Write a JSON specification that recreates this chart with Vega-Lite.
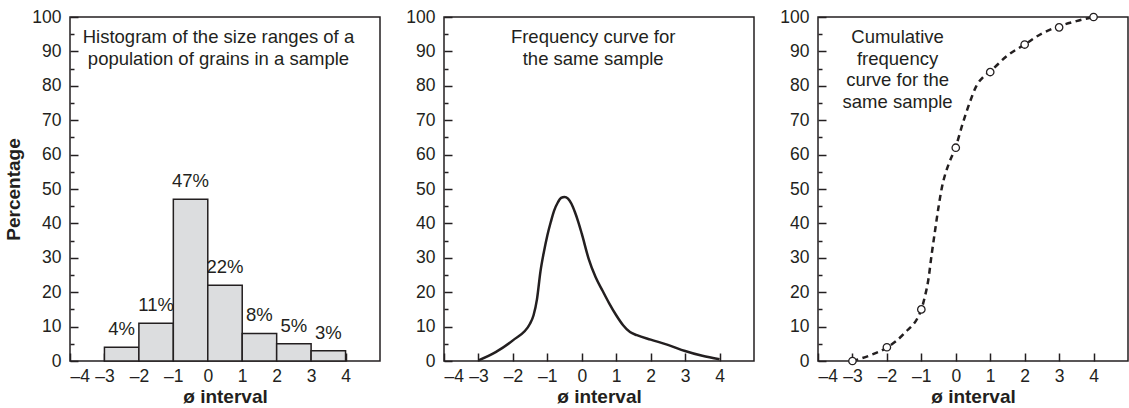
{
  "$schema": "https://vega.github.io/schema/vega-lite/v6.json",
  "background": "white",
  "padding": {"left": 4, "top": 7, "right": 0, "bottom": 0},
  "spacing": 24,
  "datasets": {
    "hist": [
      {"bin_start": -3, "bin_end": -2, "mid": -2.5, "pct": 4, "label": "4%"},
      {"bin_start": -2, "bin_end": -1, "mid": -1.5, "pct": 11, "label": "11%"},
      {"bin_start": -1, "bin_end": 0, "mid": -0.5, "pct": 47, "label": "47%"},
      {"bin_start": 0, "bin_end": 1, "mid": 0.5, "pct": 22, "label": "22%"},
      {"bin_start": 1, "bin_end": 2, "mid": 1.5, "pct": 8, "label": "8%"},
      {"bin_start": 2, "bin_end": 3, "mid": 2.5, "pct": 5, "label": "5%"},
      {"bin_start": 3, "bin_end": 4, "mid": 3.5, "pct": 3, "label": "3%"}
    ],
    "freq": [
      {"phi": -3, "pct": 0.2}, {"phi": -2.5, "pct": 2.6}, {"phi": -2, "pct": 6},
      {"phi": -1.5, "pct": 10.9}, {"phi": -1.4, "pct": 13.3}, {"phi": -1.3, "pct": 18},
      {"phi": -1.2, "pct": 26}, {"phi": -1.1, "pct": 31.7}, {"phi": -1, "pct": 36.5},
      {"phi": -0.9, "pct": 40.4}, {"phi": -0.8, "pct": 43.8}, {"phi": -0.7, "pct": 46},
      {"phi": -0.6, "pct": 47.4}, {"phi": -0.5, "pct": 47.7}, {"phi": -0.4, "pct": 47.2},
      {"phi": -0.3, "pct": 45.7}, {"phi": -0.2, "pct": 43.3}, {"phi": -0.1, "pct": 40.4},
      {"phi": 0, "pct": 37}, {"phi": 0.2, "pct": 29.7}, {"phi": 0.4, "pct": 24.4},
      {"phi": 0.6, "pct": 20.5}, {"phi": 0.8, "pct": 16.7}, {"phi": 1, "pct": 13.3},
      {"phi": 1.2, "pct": 10.4}, {"phi": 1.4, "pct": 8.4}, {"phi": 1.6, "pct": 7.5},
      {"phi": 2, "pct": 6.2}, {"phi": 2.5, "pct": 4.7}, {"phi": 3, "pct": 2.9},
      {"phi": 3.5, "pct": 1.5}, {"phi": 4, "pct": 0.5}
    ],
    "cumcurve": [
      {"phi": -3, "pct": 0}, {"phi": -2.5, "pct": 1.6}, {"phi": -2, "pct": 3.9},
      {"phi": -1.5, "pct": 8}, {"phi": -1, "pct": 15}, {"phi": -0.9, "pct": 18.6},
      {"phi": -0.8, "pct": 23.4}, {"phi": -0.7, "pct": 31}, {"phi": -0.6, "pct": 38},
      {"phi": -0.5, "pct": 44.8}, {"phi": -0.4, "pct": 50.6}, {"phi": -0.3, "pct": 54.5},
      {"phi": -0.2, "pct": 57.4}, {"phi": 0, "pct": 62.3}, {"phi": 0.2, "pct": 69},
      {"phi": 0.4, "pct": 75}, {"phi": 0.6, "pct": 80}, {"phi": 0.8, "pct": 82.6},
      {"phi": 1, "pct": 84.2}, {"phi": 1.5, "pct": 88.8}, {"phi": 2, "pct": 92},
      {"phi": 2.5, "pct": 95.2}, {"phi": 3, "pct": 97.3}, {"phi": 3.5, "pct": 98.8},
      {"phi": 4, "pct": 100}
    ],
    "cumpts": [
      {"phi": -3, "pct": 0}, {"phi": -2, "pct": 4}, {"phi": -1, "pct": 15},
      {"phi": 0, "pct": 62}, {"phi": 1, "pct": 84}, {"phi": 2, "pct": 92},
      {"phi": 3, "pct": 97}, {"phi": 4, "pct": 100}
    ],
    "one": [{}]
  },
  "config": {
    "font": "Liberation Sans",
    "view": {"stroke": "#231f20", "strokeWidth": 1.5},
    "axis": {
      "grid": false,
      "ticks": true,
      "domain": false,
      "offset": -8,
      "tickSize": 8,
      "tickColor": "#231f20",
      "tickWidth": 1.5,
      "labelColor": "#231f20",
      "labelFont": "Liberation Sans",
      "labelFontSize": 17.5,
      "labelOverlap": false,
      "titleColor": "#231f20",
      "titleFont": "Liberation Sans",
      "titleFontSize": 19,
      "titleFontWeight": "bold"
    },
    "axisX": {"labelPadding": 6, "titlePadding": 3},
    "axisY": {"labelPadding": 9},
    "text": {"font": "Liberation Sans", "color": "#231f20"}
  },
  "hconcat": [
    {
      "width": 310,
      "height": 344,
      "layer": [
        {
          "data": {"name": "hist"},
          "mark": {"type": "rect", "fill": "#dcdddf", "stroke": "#231f20", "strokeWidth": 1.5},
          "encoding": {
            "x": {"field": "bin_start", "type": "quantitative",
              "scale": {"domain": [-4, 5], "nice": false},
              "axis": {"title": "ø interval", "values": [-4, -3, -2, -1, 0, 1, 2, 3, 4], "labelOverlap": false,
                "labelExpr": "datum.value < 0 ? '–' + abs(datum.value) : '' + datum.value"}},
            "x2": {"field": "bin_end"},
            "y": {"field": "pct", "type": "quantitative",
              "scale": {"domain": [0, 100], "nice": false},
              "axis": {"title": "Percentage", "titlePadding": 8, "labelOverlap": false,
                "values": [0, 5, 10, 15, 20, 25, 30, 35, 40, 45, 50, 55, 60, 65, 70, 75, 80, 85, 90, 95, 100],
                "labelExpr": "datum.value % 10 === 0 ? datum.label : ''",
                "tickDash": {"condition": {"test": "datum.value % 10 !== 0", "value": [4, 4]}, "value": []},
                "tickDashOffset": {"condition": {"test": "datum.value % 10 !== 0", "value": 4}, "value": 0}}},
            "y2": {"datum": 0}
          }
        },
        {
          "data": {"name": "hist"},
          "mark": {"type": "text", "fontSize": 18.5, "baseline": "alphabetic", "dy": -12},
          "encoding": {
            "x": {"field": "mid", "type": "quantitative",
              "axis": {"title": "ø interval", "values": [-4, -3, -2, -1, 0, 1, 2, 3, 4], "labelOverlap": false,
                "labelExpr": "datum.value < 0 ? '–' + abs(datum.value) : '' + datum.value"}},
            "y": {"field": "pct", "type": "quantitative",
              "axis": {"title": "Percentage", "titlePadding": 8, "labelOverlap": false,
                "values": [0, 5, 10, 15, 20, 25, 30, 35, 40, 45, 50, 55, 60, 65, 70, 75, 80, 85, 90, 95, 100],
                "labelExpr": "datum.value % 10 === 0 ? datum.label : ''",
                "tickDash": {"condition": {"test": "datum.value % 10 !== 0", "value": [4, 4]}, "value": []},
                "tickDashOffset": {"condition": {"test": "datum.value % 10 !== 0", "value": 4}, "value": 0}}},
            "text": {"field": "label"}
          }
        },
        {
          "data": {"name": "one"},
          "mark": {"type": "text", "fontSize": 18.5, "align": "center", "baseline": "alphabetic", "lineHeight": 21.5},
          "encoding": {
            "x": {"datum": 0.31, "type": "quantitative",
              "axis": {"title": "ø interval", "values": [-4, -3, -2, -1, 0, 1, 2, 3, 4], "labelOverlap": false,
                "labelExpr": "datum.value < 0 ? '–' + abs(datum.value) : '' + datum.value"}},
            "y": {"datum": 92.4, "type": "quantitative",
              "axis": {"title": "Percentage", "titlePadding": 8, "labelOverlap": false,
                "values": [0, 5, 10, 15, 20, 25, 30, 35, 40, 45, 50, 55, 60, 65, 70, 75, 80, 85, 90, 95, 100],
                "labelExpr": "datum.value % 10 === 0 ? datum.label : ''",
                "tickDash": {"condition": {"test": "datum.value % 10 !== 0", "value": [4, 4]}, "value": []},
                "tickDashOffset": {"condition": {"test": "datum.value % 10 !== 0", "value": 4}, "value": 0}}},
            "text": {"value": ["Histogram of the size ranges of a", "population of grains in a sample"]}
          }
        }
      ]
    },
    {
      "width": 310,
      "height": 344,
      "layer": [
        {
          "data": {"name": "freq"},
          "mark": {"type": "line", "interpolate": "monotone", "color": "#231f20", "strokeWidth": 2.5},
          "encoding": {
            "x": {"field": "phi", "type": "quantitative",
              "scale": {"domain": [-4, 5], "nice": false},
              "axis": {"title": "ø interval", "values": [-4, -3, -2, -1, 0, 1, 2, 3, 4], "labelOverlap": false,
                "labelExpr": "datum.value < 0 ? '–' + abs(datum.value) : '' + datum.value"}},
            "y": {"field": "pct", "type": "quantitative",
              "scale": {"domain": [0, 100], "nice": false},
              "axis": {"title": null, "labelOverlap": false,
                "values": [0, 5, 10, 15, 20, 25, 30, 35, 40, 45, 50, 55, 60, 65, 70, 75, 80, 85, 90, 95, 100],
                "labelExpr": "datum.value % 10 === 0 ? datum.label : ''",
                "tickDash": {"condition": {"test": "datum.value % 10 !== 0", "value": [4, 4]}, "value": []},
                "tickDashOffset": {"condition": {"test": "datum.value % 10 !== 0", "value": 4}, "value": 0}}}
          }
        },
        {
          "data": {"name": "one"},
          "mark": {"type": "text", "fontSize": 18.5, "align": "center", "baseline": "alphabetic", "lineHeight": 21.5},
          "encoding": {
            "x": {"datum": 0.33, "type": "quantitative",
              "axis": {"title": "ø interval", "values": [-4, -3, -2, -1, 0, 1, 2, 3, 4], "labelOverlap": false,
                "labelExpr": "datum.value < 0 ? '–' + abs(datum.value) : '' + datum.value"}},
            "y": {"datum": 92.4, "type": "quantitative",
              "axis": {"title": null, "labelOverlap": false,
                "values": [0, 5, 10, 15, 20, 25, 30, 35, 40, 45, 50, 55, 60, 65, 70, 75, 80, 85, 90, 95, 100],
                "labelExpr": "datum.value % 10 === 0 ? datum.label : ''",
                "tickDash": {"condition": {"test": "datum.value % 10 !== 0", "value": [4, 4]}, "value": []},
                "tickDashOffset": {"condition": {"test": "datum.value % 10 !== 0", "value": 4}, "value": 0}}},
            "text": {"value": ["Frequency curve for", "the same sample"]}
          }
        }
      ]
    },
    {
      "width": 310,
      "height": 344,
      "layer": [
        {
          "data": {"name": "cumcurve"},
          "mark": {"type": "line", "interpolate": "monotone", "color": "#231f20", "strokeWidth": 2.5, "strokeDash": [6, 4.5]},
          "encoding": {
            "x": {"field": "phi", "type": "quantitative",
              "scale": {"domain": [-4, 5], "nice": false},
              "axis": {"title": "ø interval", "values": [-4, -3, -2, -1, 0, 1, 2, 3, 4], "labelOverlap": false,
                "labelExpr": "datum.value < 0 ? '–' + abs(datum.value) : '' + datum.value"}},
            "y": {"field": "pct", "type": "quantitative",
              "scale": {"domain": [0, 100], "nice": false},
              "axis": {"title": null, "labelOverlap": false,
                "values": [0, 5, 10, 15, 20, 25, 30, 35, 40, 45, 50, 55, 60, 65, 70, 75, 80, 85, 90, 95, 100],
                "labelExpr": "datum.value % 10 === 0 ? datum.label : ''",
                "tickDash": {"condition": {"test": "datum.value % 10 !== 0", "value": [4, 4]}, "value": []},
                "tickDashOffset": {"condition": {"test": "datum.value % 10 !== 0", "value": 4}, "value": 0}}}
          }
        },
        {
          "data": {"name": "cumpts"},
          "mark": {"type": "point", "shape": "circle", "filled": true, "fill": "white", "stroke": "#231f20", "strokeWidth": 1.3, "size": 55, "opacity": 1},
          "encoding": {
            "x": {"field": "phi", "type": "quantitative",
              "axis": {"title": "ø interval", "values": [-4, -3, -2, -1, 0, 1, 2, 3, 4], "labelOverlap": false,
                "labelExpr": "datum.value < 0 ? '–' + abs(datum.value) : '' + datum.value"}},
            "y": {"field": "pct", "type": "quantitative",
              "axis": {"title": null, "labelOverlap": false,
                "values": [0, 5, 10, 15, 20, 25, 30, 35, 40, 45, 50, 55, 60, 65, 70, 75, 80, 85, 90, 95, 100],
                "labelExpr": "datum.value % 10 === 0 ? datum.label : ''",
                "tickDash": {"condition": {"test": "datum.value % 10 !== 0", "value": [4, 4]}, "value": []},
                "tickDashOffset": {"condition": {"test": "datum.value % 10 !== 0", "value": 4}, "value": 0}}}
          }
        },
        {
          "data": {"name": "one"},
          "mark": {"type": "text", "fontSize": 18.5, "align": "center", "baseline": "alphabetic", "lineHeight": 21.5},
          "encoding": {
            "x": {"datum": -1.69, "type": "quantitative",
              "axis": {"title": "ø interval", "values": [-4, -3, -2, -1, 0, 1, 2, 3, 4], "labelOverlap": false,
                "labelExpr": "datum.value < 0 ? '–' + abs(datum.value) : '' + datum.value"}},
            "y": {"datum": 92.4, "type": "quantitative",
              "axis": {"title": null, "labelOverlap": false,
                "values": [0, 5, 10, 15, 20, 25, 30, 35, 40, 45, 50, 55, 60, 65, 70, 75, 80, 85, 90, 95, 100],
                "labelExpr": "datum.value % 10 === 0 ? datum.label : ''",
                "tickDash": {"condition": {"test": "datum.value % 10 !== 0", "value": [4, 4]}, "value": []},
                "tickDashOffset": {"condition": {"test": "datum.value % 10 !== 0", "value": 4}, "value": 0}}},
            "text": {"value": ["Cumulative", "frequency", "curve for the", "same sample"]}
          }
        }
      ]
    }
  ]
}
